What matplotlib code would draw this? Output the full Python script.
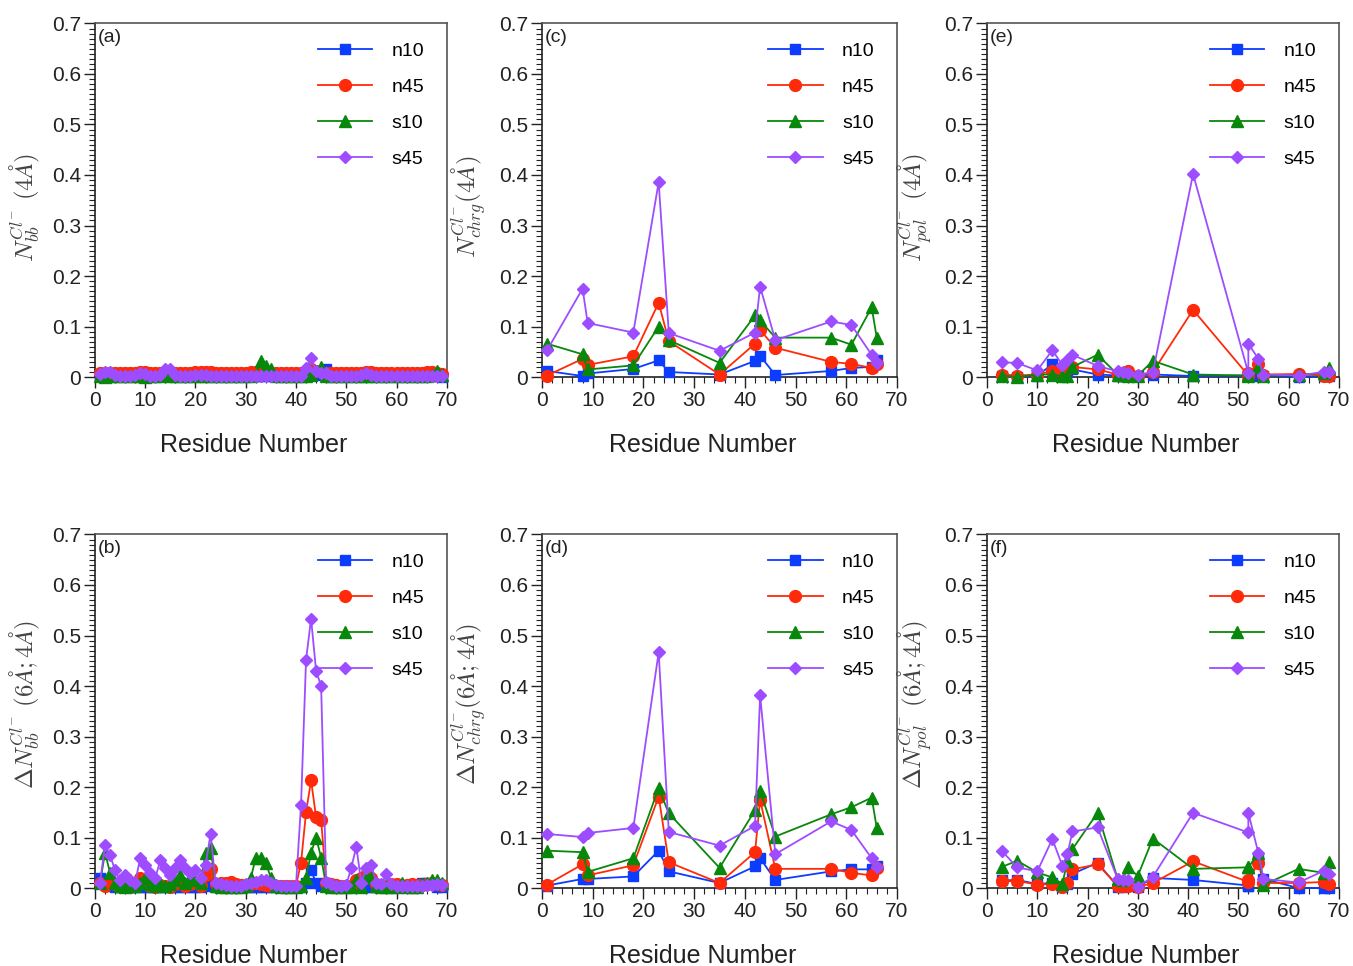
import matplotlib
matplotlib.use("Agg")
import matplotlib.pyplot as plt
from matplotlib.ticker import MultipleLocator

plt.rcParams['font.family'] = ['Liberation Sans', 'DejaVu Sans']
plt.rcParams['mathtext.fontset'] = 'cm'

# residue numbers
res_all = [1, 2, 3, 4, 5, 6, 7, 8, 9, 10, 11, 12, 13, 14, 15, 16, 17, 18, 19, 20,
           21, 22, 23, 24, 25, 26, 27, 28, 29, 30, 31, 32, 33, 34, 35, 36, 37, 38, 39, 40,
           41, 42, 43, 44, 45, 46, 47, 48, 49, 50, 51, 52, 53, 54, 55, 56, 57, 58, 59, 60,
           61, 62, 63, 64, 65, 66, 67, 68, 69]
res_chrg = [1, 8, 9, 18, 23, 25, 35, 42, 43, 46, 57, 61, 65, 66]
res_pol = [3, 6, 10, 13, 15, 16, 17, 22, 26, 27, 28, 30, 33, 41, 52, 52, 54, 55, 62, 67, 68]

series = ['n10', 'n45', 's10', 's45']

# (a) backbone, 4A
a_n10 = [0.002, 0.002, 0.002, 0.002, 0.002, 0.002, 0.002, 0.002, 0.002, 0.002,
         0.002, 0.002, 0.002, 0.002, 0.002, 0.002, 0.002, 0.002, 0.002, 0.002,
         0.002, 0.002, 0.002, 0.002, 0.002, 0.002, 0.002, 0.002, 0.002, 0.002,
         0.002, 0.002, 0.002, 0.002, 0.002, 0.002, 0.002, 0.002, 0.002, 0.002,
         0.002, 0.002, 0.004, 0.004, 0.006, 0.015, 0.004, 0.002, 0.002, 0.002,
         0.002, 0.002, 0.002, 0.002, 0.002, 0.002, 0.002, 0.002, 0.002, 0.002,
         0.002, 0.002, 0.002, 0.002, 0.002, 0.002, 0.002, 0.002, 0.000]
a_n45 = [0.008, 0.008, 0.008, 0.008, 0.008, 0.008, 0.008, 0.008, 0.010, 0.010,
         0.008, 0.008, 0.008, 0.010, 0.010, 0.008, 0.008, 0.008, 0.008, 0.010,
         0.010, 0.010, 0.010, 0.008, 0.008, 0.008, 0.008, 0.008, 0.008, 0.008,
         0.010, 0.010, 0.010, 0.010, 0.008, 0.008, 0.008, 0.008, 0.008, 0.008,
         0.008, 0.010, 0.015, 0.012, 0.010, 0.008, 0.008, 0.008, 0.008, 0.008,
         0.008, 0.008, 0.008, 0.010, 0.010, 0.008, 0.008, 0.008, 0.008, 0.008,
         0.008, 0.008, 0.008, 0.008, 0.008, 0.010, 0.010, 0.008, 0.006]
a_s10 = [0.002, 0.000, 0.002, 0.002, 0.002, 0.002, 0.002, 0.002, 0.002, 0.000,
         0.002, 0.002, 0.002, 0.005, 0.002, 0.002, 0.002, 0.002, 0.002, 0.002,
         0.002, 0.002, 0.002, 0.002, 0.002, 0.002, 0.002, 0.002, 0.002, 0.002,
         0.002, 0.005, 0.032, 0.022, 0.015, 0.003, 0.002, 0.002, 0.002, 0.002,
         0.002, 0.002, 0.005, 0.012, 0.020, 0.003, 0.002, 0.002, 0.002, 0.002,
         0.002, 0.002, 0.002, 0.002, 0.002, 0.002, 0.002, 0.002, 0.002, 0.002,
         0.002, 0.002, 0.002, 0.002, 0.002, 0.002, 0.004, 0.012, 0.004]
a_s45 = [0.006, 0.010, 0.010, 0.005, 0.003, 0.003, 0.003, 0.005, 0.008, 0.006,
         0.003, 0.003, 0.005, 0.016, 0.016, 0.005, 0.003, 0.003, 0.003, 0.005,
         0.005, 0.004, 0.003, 0.003, 0.003, 0.003, 0.003, 0.003, 0.003, 0.003,
         0.003, 0.003, 0.003, 0.003, 0.003, 0.003, 0.003, 0.003, 0.003, 0.003,
         0.003, 0.018, 0.038, 0.012, 0.008, 0.008, 0.003, 0.003, 0.003, 0.003,
         0.003, 0.003, 0.005, 0.008, 0.005, 0.003, 0.003, 0.003, 0.003, 0.003,
         0.003, 0.003, 0.003, 0.003, 0.003, 0.003, 0.003, 0.003, 0.003]

# (b) backbone, 6A-4A
b_n10 = [0.020, 0.015, 0.005, 0.002, 0.002, 0.002, 0.002, 0.002, 0.002, 0.002,
         0.002, 0.002, 0.002, 0.002, 0.002, 0.002, 0.002, 0.002, 0.002, 0.002,
         0.002, 0.005, 0.010, 0.002, 0.002, 0.002, 0.002, 0.002, 0.002, 0.002,
         0.002, 0.002, 0.002, 0.002, 0.002, 0.002, 0.002, 0.002, 0.002, 0.002,
         0.002, 0.010, 0.035, 0.010, 0.005, 0.010, 0.002, 0.002, 0.002, 0.002,
         0.002, 0.002, 0.002, 0.002, 0.002, 0.002, 0.002, 0.002, 0.002, 0.002,
         0.002, 0.002, 0.002, 0.002, 0.010, 0.010, 0.008, 0.002, 0.002]
b_n45 = [0.010, 0.005, 0.012, 0.008, 0.005, 0.004, 0.003, 0.005, 0.020, 0.010,
         0.005, 0.003, 0.006, 0.004, 0.003, 0.008, 0.012, 0.005, 0.008, 0.010,
         0.005, 0.025, 0.038, 0.008, 0.010, 0.010, 0.012, 0.008, 0.006, 0.006,
         0.008, 0.010, 0.008, 0.006, 0.005, 0.005, 0.005, 0.005, 0.005, 0.005,
         0.050, 0.150, 0.213, 0.140, 0.135, 0.010, 0.008, 0.006, 0.005, 0.005,
         0.005, 0.015, 0.020, 0.025, 0.020, 0.008, 0.005, 0.005, 0.008, 0.008,
         0.005, 0.006, 0.008, 0.006, 0.006, 0.008, 0.010, 0.008, 0.006]
b_s10 = [0.010, 0.070, 0.030, 0.010, 0.005, 0.003, 0.005, 0.005, 0.010, 0.020,
         0.008, 0.005, 0.010, 0.005, 0.008, 0.015, 0.025, 0.010, 0.020, 0.015,
         0.010, 0.070, 0.080, 0.005, 0.003, 0.003, 0.003, 0.003, 0.003, 0.005,
         0.020, 0.060, 0.060, 0.050, 0.020, 0.005, 0.003, 0.003, 0.003, 0.003,
         0.005, 0.020, 0.070, 0.100, 0.060, 0.005, 0.003, 0.003, 0.003, 0.003,
         0.003, 0.015, 0.003, 0.025, 0.020, 0.005, 0.003, 0.003, 0.003, 0.003,
         0.010, 0.003, 0.003, 0.003, 0.008, 0.010, 0.015, 0.015, 0.010]
b_s45 = [0.010, 0.085, 0.065, 0.035, 0.015, 0.025, 0.015, 0.010, 0.060, 0.045,
         0.030, 0.020, 0.055, 0.040, 0.025, 0.040, 0.055, 0.040, 0.030, 0.035,
         0.020, 0.045, 0.107, 0.010, 0.008, 0.006, 0.005, 0.005, 0.005, 0.008,
         0.010, 0.012, 0.015, 0.015, 0.010, 0.006, 0.005, 0.005, 0.005, 0.005,
         0.165, 0.452, 0.533, 0.430, 0.400, 0.012, 0.008, 0.005, 0.005, 0.006,
         0.040, 0.082, 0.010, 0.040, 0.045, 0.010, 0.008, 0.028, 0.008, 0.005,
         0.005, 0.005, 0.005, 0.005, 0.005, 0.006, 0.006, 0.008, 0.006]

# (c) charged, 4A
c_n10 = [0.012, 0.002, 0.007, 0.016, 0.033, 0.010, 0.005, 0.032, 0.042, 0.004, 0.012, 0.018, 0.020, 0.033]
c_n45 = [0.003, 0.036, 0.024, 0.041, 0.147, 0.071, 0.005, 0.066, 0.093, 0.058, 0.030, 0.026, 0.018, 0.026]
c_s10 = [0.066, 0.045, 0.015, 0.023, 0.100, 0.073, 0.028, 0.122, 0.112, 0.078, 0.078, 0.064, 0.138, 0.078]
c_s45 = [0.053, 0.175, 0.107, 0.088, 0.386, 0.087, 0.052, 0.088, 0.179, 0.073, 0.110, 0.103, 0.044, 0.028]

# (d) charged, 6A-4A
d_n10 = [0.005, 0.018, 0.018, 0.023, 0.074, 0.033, 0.010, 0.043, 0.059, 0.016, 0.033, 0.037, 0.037, 0.043]
d_n45 = [0.007, 0.047, 0.025, 0.045, 0.181, 0.051, 0.010, 0.071, 0.175, 0.038, 0.038, 0.030, 0.025, 0.040]
d_s10 = [0.074, 0.071, 0.032, 0.059, 0.198, 0.148, 0.040, 0.154, 0.192, 0.102, 0.146, 0.160, 0.179, 0.119]
d_s45 = [0.107, 0.101, 0.109, 0.119, 0.467, 0.111, 0.084, 0.123, 0.382, 0.067, 0.132, 0.115, 0.059, 0.041]

# (e) polar, 4A
e_n10 = [0.002, 0.000, 0.003, 0.025, 0.005, 0.010, 0.015, 0.005, 0.003, 0.003, 0.003,
         0.003, 0.005, 0.002, 0.003, 0.003, 0.003, 0.003, 0.001, 0.002, 0.002]
e_n45 = [0.005, 0.003, 0.005, 0.012, 0.010, 0.015, 0.020, 0.015, 0.005, 0.008, 0.012,
         0.003, 0.010, 0.133, 0.003, 0.008, 0.025, 0.005, 0.006, 0.003, 0.002]
e_s10 = [0.003, 0.000, 0.005, 0.005, 0.002, 0.003, 0.020, 0.044, 0.005, 0.004, 0.003,
         0.003, 0.032, 0.005, 0.003, 0.005, 0.020, 0.003, 0.004, 0.008, 0.018]
e_s45 = [0.029, 0.028, 0.013, 0.053, 0.024, 0.034, 0.044, 0.022, 0.011, 0.010, 0.008,
         0.005, 0.009, 0.402, 0.008, 0.066, 0.036, 0.005, 0.003, 0.010, 0.010]

# (f) polar, 6A-4A
f_n10 = [0.015, 0.016, 0.008, 0.010, 0.002, 0.008, 0.028, 0.050, 0.003, 0.003, 0.005,
         0.002, 0.020, 0.016, 0.005, 0.005, 0.060, 0.018, 0.000, 0.000, 0.000]
f_n45 = [0.013, 0.014, 0.007, 0.008, 0.003, 0.010, 0.037, 0.047, 0.005, 0.004, 0.005,
         0.002, 0.010, 0.053, 0.012, 0.015, 0.050, 0.010, 0.010, 0.012, 0.008]
f_s10 = [0.042, 0.054, 0.031, 0.021, 0.008, 0.054, 0.077, 0.149, 0.018, 0.015, 0.042,
         0.024, 0.098, 0.038, 0.041, 0.041, 0.069, 0.006, 0.038, 0.030, 0.052]
f_s45 = [0.073, 0.041, 0.033, 0.097, 0.044, 0.067, 0.112, 0.120, 0.018, 0.015, 0.016,
         0.003, 0.022, 0.149, 0.110, 0.149, 0.069, 0.018, 0.011, 0.034, 0.028]

colors = {'n10': '#0b3cff', 'n45': '#ff2a0a', 's10': '#08880a', 's45': '#9d4dff'}
markers = {'n10': 's', 'n45': 'o', 's10': '^', 's45': 'D'}
msizes = {'n10': 7.5, 'n45': 8.5, 's10': 8, 's45': 6.5}

panels = [
    ('(a)', res_all, [a_n10, a_n45, a_s10, a_s45], r'$N_{bb}^{Cl^{-}}\ (4\AA)$'),
    ('(b)', res_all, [b_n10, b_n45, b_s10, b_s45], r'$\Delta N_{bb}^{Cl^{-}}\ (6\AA;4\AA)$'),
    ('(c)', res_chrg, [c_n10, c_n45, c_s10, c_s45], r'$N_{chrg}^{Cl^{-}}(4\AA)$'),
    ('(d)', res_chrg, [d_n10, d_n45, d_s10, d_s45], r'$\Delta N_{chrg}^{Cl^{-}}(6\AA;4\AA)$'),
    ('(e)', res_pol, [e_n10, e_n45, e_s10, e_s45], r'$N_{pol}^{Cl^{-}}\ (4\AA)$'),
    ('(f)', res_pol, [f_n10, f_n45, f_s10, f_s45], r'$\Delta N_{pol}^{Cl^{-}}\ (6\AA;4\AA)$'),
]

fig = plt.figure(figsize=(13.53, 9.66), dpi=100)

lefts = [0.0702, 0.4006, 0.7295]
widths = [0.260, 0.2624, 0.260]
bottoms = [0.6097, 0.0807]
height = 0.366
ylab_y = [0.48, 0.52]

for i, (tag, xs, vals, ylab) in enumerate(panels):
    col = i // 2
    row = i % 2
    ax = fig.add_axes([lefts[col], bottoms[row], widths[col], height])
    for name, v in zip(series, vals):
        ax.plot(xs, v, color=colors[name], marker=markers[name], ms=msizes[name],
                lw=1.3, label=name, clip_on=False, zorder=3)
    ax.set_xlim(0, 70)
    ax.set_ylim(0, 0.7)
    ax.xaxis.set_major_locator(MultipleLocator(10))
    ax.xaxis.set_minor_locator(MultipleLocator(2))
    ax.yaxis.set_major_locator(MultipleLocator(0.1))
    ax.yaxis.set_minor_locator(MultipleLocator(0.01))
    ax.set_yticklabels(['0' if t == 0 else '%.1f' % t for t in ax.get_yticks()])
    ax.tick_params(which='major', direction='out', length=8, width=1, labelsize=15,
                   colors='#222', pad=2)
    ax.tick_params(which='minor', direction='out', length=4, width=0.8, colors='#222')
    ax.tick_params(top=False, right=False)
    for s in ['left', 'bottom']:
        ax.spines[s].set_color('#222')
        ax.spines[s].set_linewidth(1.2)
    for s in ['top', 'right']:
        ax.spines[s].set_color('#555')
        ax.spines[s].set_linewidth(1.2)
    ax.set_xlabel('Residue Number', fontsize=18, color='#222')
    ax.xaxis.set_label_coords(0.452, -0.158)
    ax.set_ylabel(ylab, fontsize=18, color='#444')
    ax.yaxis.set_label_coords(-0.152, ylab_y[row])
    ax.text(0.008, 0.985, tag, transform=ax.transAxes, fontsize=14, va='top', ha='left',
            color='#222')
    ax.legend(loc='upper right', bbox_to_anchor=(0.97, 0.98), frameon=False, fontsize=14,
              handlelength=2.8, labelspacing=0.95, handletextpad=1.0, borderaxespad=0.2)

fig.savefig('out.png', dpi=100)
